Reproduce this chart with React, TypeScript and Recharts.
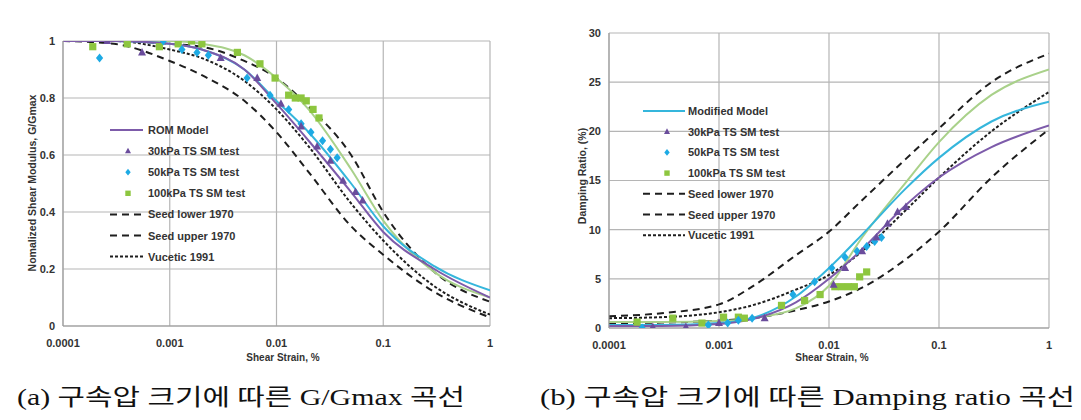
import React from "react";
import { ComposedChart, Line, Scatter, XAxis, YAxis, CartesianGrid } from "recharts";

// strain grid the fitted curves are read on (%)
const STRAIN = [0.0001, 0.0003, 0.001, 0.002, 0.005, 0.01, 0.02, 0.05, 0.1, 0.3, 1];
const STRAIN_TICKS = [0.0001, 0.001, 0.01, 0.1, 1];
const G_TICKS = [0, 0.2, 0.4, 0.6, 0.8, 1];
const D_TICKS = [0, 5, 10, 15, 20, 25, 30];

// (a) G/Gmax curves
const G_ROM = [1.0, 1.0, 0.99, 0.97, 0.9, 0.78, 0.65, 0.47, 0.33, 0.2, 0.1];
const G_CYAN = [1.0, 1.0, 0.99, 0.97, 0.9, 0.79, 0.68, 0.5, 0.35, 0.21, 0.125];
const G_GREEN = [1.0, 1.0, 1.0, 0.99, 0.95, 0.87, 0.76, 0.55, 0.37, 0.19, 0.1];
const G_SEED_LOWER = [1.0, 0.99, 0.93, 0.88, 0.79, 0.68, 0.54, 0.35, 0.25, 0.12, 0.03];
const G_SEED_UPPER = [1.0, 1.0, 0.99, 0.98, 0.93, 0.87, 0.77, 0.6, 0.4, 0.19, 0.085];
const G_VUCETIC = [1.0, 1.0, 0.97, 0.94, 0.86, 0.76, 0.63, 0.43, 0.3, 0.14, 0.04];

// (a) test points
const G_30_X = [0.00026, 0.00055, 0.003, 0.0066, 0.011, 0.017, 0.024, 0.032, 0.042, 0.055, 0.064];
const G_30_Y = [1.0, 0.96, 0.94, 0.87, 0.78, 0.7, 0.63, 0.58, 0.51, 0.47, 0.44];
const G_50_X = [0.00022, 0.00087, 0.0013, 0.0018, 0.0023, 0.0053, 0.0087, 0.013, 0.017, 0.021, 0.027, 0.032, 0.037];
const G_50_Y = [0.94, 1.0, 0.97, 0.96, 0.95, 0.87, 0.81, 0.76, 0.71, 0.68, 0.65, 0.62, 0.59];
const G_100_X = [0.00019, 0.0004, 0.0008, 0.0012, 0.0016, 0.002, 0.0043, 0.007, 0.0097, 0.013, 0.015, 0.017, 0.019, 0.022, 0.025];
const G_100_Y = [0.98, 0.99, 0.98, 0.99, 1.0, 0.99, 0.96, 0.92, 0.87, 0.81, 0.8, 0.8, 0.79, 0.76, 0.73];

// (b) damping curves
const D_ROM = [0.2, 0.2, 0.4, 0.9, 2.6, 5.0, 8.0, 12.5, 15.3, 18.4, 20.6];
const D_MODIFIED = [0.3, 0.3, 0.5, 1.0, 3.2, 6.1, 9.5, 14.2, 17.3, 21.0, 23.0];
const D_GREEN = [0.6, 0.6, 0.7, 1.0, 2.0, 4.3, 9.2, 14.8, 18.9, 23.7, 26.3];
const D_SEED_LOWER = [0.5, 0.55, 0.75, 1.0, 1.8, 2.7, 4.1, 7.0, 9.8, 15.3, 20.2];
const D_SEED_UPPER = [1.2, 1.5, 2.4, 4.2, 7.4, 9.8, 13.0, 17.2, 20.3, 25.0, 27.9];
const D_VUCETIC = [1.0, 1.1, 1.6, 2.3, 3.9, 5.4, 7.8, 12.0, 15.3, 20.0, 24.0];

// (b) test points
const D_30_X = [0.00025, 0.0005, 0.001, 0.0026, 0.011, 0.014, 0.02, 0.027, 0.034, 0.042, 0.05];
const D_30_Y = [0.1, 0.1, 0.5, 1.0, 4.4, 6.1, 7.8, 9.2, 10.6, 11.8, 12.3];
const D_50_X = [0.0002, 0.0008, 0.0012, 0.0015, 0.002, 0.0047, 0.0074, 0.0106, 0.014, 0.018, 0.022, 0.026, 0.03];
const D_50_Y = [0.0, 0.3, 0.5, 0.8, 1.0, 3.4, 4.7, 6.1, 7.2, 7.8, 8.3, 8.8, 9.2];
const D_100_X = [0.00018, 0.00038, 0.0007, 0.0011, 0.0015, 0.0017, 0.0037, 0.006, 0.0083, 0.0113, 0.013, 0.015, 0.017, 0.019, 0.022];
const D_100_Y = [0.6, 1.0, 0.5, 1.1, 1.1, 1.0, 2.3, 2.8, 3.4, 4.2, 4.2, 4.2, 4.2, 5.2, 5.7];

const LEGEND_A = ["ROM Model", "30kPa TS SM test", "50kPa TS SM test", "100kPa TS SM test", "Seed lower 1970", "Seed upper 1970", "Vucetic 1991"];
const LEGEND_B = ["Modified Model", "30kPa TS SM test", "50kPa TS SM test", "100kPa TS SM test", "Seed lower 1970", "Seed upper 1970", "Vucetic 1991"];

const PURPLE = "#7D5BAA";
const PURPLE_PT = "#6A4C9C";
const CYAN = "#35B6DC";
const CYAN_PT = "#1DAAE4";
const GREEN = "#A9D18A";
const GREEN_PT = "#8DC63F";
const BLACK = "#1E1E1E";
const LONG_DASH = "7 5";
const SHORT_DASH = "3 2";

const SANS = "'Liberation Sans', Arial, sans-serif";
const tickStyle = { fill: "#333", fontSize: 11, fontWeight: 700, fontFamily: SANS };

const pts = (xs: number[], ys: number[]) => xs.map((x, i) => ({ x, y: ys[i] }));

const Tri = ({ cx, cy, c, s = 1 }: any) => (
  <path d={`M${cx},${cy - 4.5 * s}L${cx + 4 * s},${cy + 3 * s}L${cx - 4 * s},${cy + 3 * s}Z`} fill={c} />
);
const Dia = ({ cx, cy, c, s = 1 }: any) => (
  <path d={`M${cx},${cy - 4.5 * s}L${cx + 3.6 * s},${cy}L${cx},${cy + 4.5 * s}L${cx - 3.6 * s},${cy}Z`} fill={c} />
);
const Sq = ({ cx, cy, c, s = 1 }: any) => (
  <rect x={cx - 3.6 * s} y={cy - 3.6 * s} width={7.2 * s} height={7.2 * s} fill={c} />
);
const SHAPES: any = { tri: Tri, dia: Dia, sq: Sq };

type Curve = { values: number[]; color: string; width: number; dash?: string };
type Pts = { xs: number[]; ys: number[]; color: string; shape: string };

function Panel({ left, width, margin, yWidth, yDomain, yTicks, curves, points }: any) {
  return (
    <div style={{ position: "absolute", left, top: 0 }}>
      <ComposedChart width={width} height={360} margin={margin}>
        <CartesianGrid stroke="#B5B5B5" strokeWidth={1.2} />
        <XAxis
          type="number"
          dataKey="x"
          scale="log"
          domain={[0.0001, 1]}
          ticks={STRAIN_TICKS}
          tickFormatter={(v: number) => String(v)}
          allowDataOverflow
          height={20}
          axisLine={{ stroke: "#999" }}
          tickLine={false}
          tickMargin={7}
          tick={tickStyle}
        />
        <YAxis
          type="number"
          dataKey="y"
          domain={yDomain}
          ticks={yTicks}
          width={yWidth}
          allowDataOverflow
          axisLine={{ stroke: "#999" }}
          tickLine={false}
          tick={tickStyle}
        />
        {(curves as Curve[]).map((c, i) => (
          <Line
            key={"c" + i}
            data={pts(STRAIN, c.values)}
            dataKey="y"
            type="monotone"
            stroke={c.color}
            strokeWidth={c.width}
            strokeDasharray={c.dash}
            dot={false}
            activeDot={false}
            isAnimationActive={false}
          />
        ))}
        {(points as Pts[]).map((p, i) => {
          const S = SHAPES[p.shape];
          return (
            <Scatter
              key={"p" + i}
              data={pts(p.xs, p.ys)}
              dataKey="y"
              shape={(props: any) => <S cx={props.cx} cy={props.cy} c={p.color} />}
              isAnimationActive={false}
            />
          );
        })}
      </ComposedChart>
    </div>
  );
}

const KINDS = ["line", "tri", "dia", "sq", "long", "long", "short"];

function LegendBox({ labels, lineColor, x0, x1, mx, tx, y0, step }: any) {
  return (
    <g>
      {(labels as string[]).map((label, i) => {
        const y = y0 + i * step;
        const k = KINDS[i];
        let mark: any = null;
        if (k === "line") mark = <line x1={x0} x2={x1} y1={y} y2={y} stroke={lineColor} strokeWidth={2} />;
        else if (k === "tri") mark = <Tri cx={mx} cy={y} c={PURPLE_PT} s={0.75} />;
        else if (k === "dia") mark = <Dia cx={mx} cy={y} c={CYAN_PT} s={0.75} />;
        else if (k === "sq") mark = <Sq cx={mx} cy={y} c={GREEN_PT} s={0.75} />;
        else
          mark = (
            <line x1={x0} x2={x1} y1={y} y2={y} stroke={BLACK} strokeWidth={2} strokeDasharray={k === "long" ? LONG_DASH : SHORT_DASH} />
          );
        return (
          <g key={i}>
            {mark}
            <text x={tx} y={y} dominantBaseline="central" fontSize={11} fontWeight={700} fill="#333" fontFamily={SANS}>
              {label}
            </text>
          </g>
        );
      })}
    </g>
  );
}

export default function App() {
  const curvesA: Curve[] = [
    { values: G_SEED_LOWER, color: BLACK, width: 2, dash: LONG_DASH },
    { values: G_SEED_UPPER, color: BLACK, width: 2, dash: LONG_DASH },
    { values: G_VUCETIC, color: BLACK, width: 2, dash: SHORT_DASH },
    { values: G_GREEN, color: GREEN, width: 2 },
    { values: G_CYAN, color: CYAN, width: 2 },
    { values: G_ROM, color: PURPLE, width: 2 },
  ];
  const pointsA: Pts[] = [
    { xs: G_100_X, ys: G_100_Y, color: GREEN_PT, shape: "sq" },
    { xs: G_50_X, ys: G_50_Y, color: CYAN_PT, shape: "dia" },
    { xs: G_30_X, ys: G_30_Y, color: PURPLE_PT, shape: "tri" },
  ];
  const curvesB: Curve[] = [
    { values: D_SEED_LOWER, color: BLACK, width: 2, dash: LONG_DASH },
    { values: D_SEED_UPPER, color: BLACK, width: 2, dash: LONG_DASH },
    { values: D_VUCETIC, color: BLACK, width: 2, dash: SHORT_DASH },
    { values: D_GREEN, color: GREEN, width: 2 },
    { values: D_MODIFIED, color: CYAN, width: 2 },
    { values: D_ROM, color: PURPLE, width: 2 },
  ];
  const pointsB: Pts[] = [
    { xs: D_100_X, ys: D_100_Y, color: GREEN_PT, shape: "sq" },
    { xs: D_50_X, ys: D_50_Y, color: CYAN_PT, shape: "dia" },
    { xs: D_30_X, ys: D_30_Y, color: PURPLE_PT, shape: "tri" },
  ];

  const caption = "'Liberation Serif', 'Noto Sans CJK KR', serif";

  return (
    <div style={{ position: "absolute", left: 0, top: 0, width: 1081, height: 420, background: "#fff", overflow: "hidden" }}>
      <Panel
        left={0}
        width={540}
        margin={{ top: 41, right: 50, bottom: 14, left: 0 }}
        yWidth={63}
        yDomain={[0, 1]}
        yTicks={G_TICKS}
        curves={curvesA}
        points={pointsA}
      />
      <Panel
        left={540}
        width={541}
        margin={{ top: 33, right: 32, bottom: 12, left: 0 }}
        yWidth={69}
        yDomain={[0, 30]}
        yTicks={D_TICKS}
        curves={curvesB}
        points={pointsB}
      />
      <svg width={1081} height={420} style={{ position: "absolute", left: 0, top: 0, pointerEvents: "none" }}>
        <LegendBox labels={LEGEND_A} lineColor={PURPLE} x0={110} x1={143} mx={128} tx={148} y0={130} step={21.1} />
        <LegendBox labels={LEGEND_B} lineColor={CYAN} x0={643} x1={685} mx={667} tx={688} y0={111} step={20.7} />

        <text x={283} y={361} textAnchor="middle" fontSize={10} fontWeight={700} fill="#333" fontFamily={SANS}>
          Shear Strain, %
        </text>
        <text x={832} y={361} textAnchor="middle" fontSize={10} fontWeight={700} fill="#333" fontFamily={SANS}>
          Shear Strain, %
        </text>
        <text
          transform="translate(36,183) rotate(-90)"
          textAnchor="middle"
          fontSize={10.5}
          fontWeight={700}
          fill="#333"
          fontFamily={SANS}
        >
          Nomalized Shear Modulus, G/Gmax
        </text>
        <text
          transform="translate(586,176) rotate(-90)"
          textAnchor="middle"
          fontSize={10.5}
          fontWeight={700}
          fill="#333"
          fontFamily={SANS}
        >
          Damping Ratio, (%)
        </text>

        <text x={17} y={405} fontSize={23} fill="#111" fontFamily={caption} textLength={448} lengthAdjust="spacingAndGlyphs">
          (a) 구속압 크기에 따른 G/Gmax 곡선
        </text>
        <text x={540} y={405} fontSize={23} fill="#111" fontFamily={caption} textLength={535} lengthAdjust="spacingAndGlyphs">
          (b) 구속압 크기에 따른 Damping ratio 곡선
        </text>
      </svg>
    </div>
  );
}
